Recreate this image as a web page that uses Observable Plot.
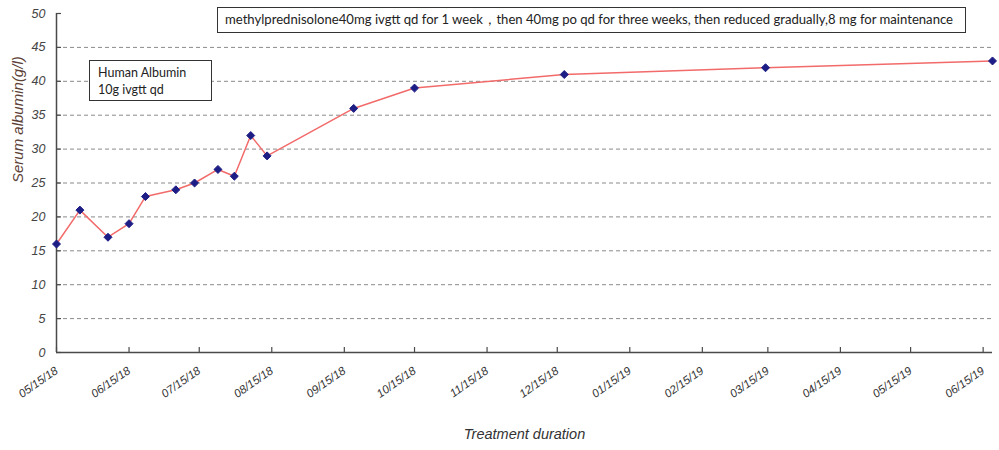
<!DOCTYPE html>
<html>
<head>
<meta charset="utf-8">
<script src="https://cdn.jsdelivr.net/npm/d3@7"></script>
<script src="https://cdn.jsdelivr.net/npm/@observablehq/plot@0.6"></script>
<style>
  html, body { margin: 0; padding: 0; background: #fff; }
  #wrap { position: relative; width: 999px; height: 450px; overflow: hidden; }
  .note { position: absolute; box-sizing: border-box; border: 1.5px solid #333; background: #fff;
          font-family: Lato, "Open Sans", sans-serif; color: #222; font-size: 12px; white-space: nowrap; }
  #note1 { left: 217px; top: 7px; width: 749px; height: 26px; line-height: 24px; padding-left: 7px; font-size: 12.5px; }
  #note2 { left: 89px; top: 60px; width: 123px; height: 41px; padding: 3px 0 0 8px; line-height: 17px; font-size: 12.5px; }
  #note1 span { display: inline-block; transform-origin: 0 50%; }
</style>
</head>
<body>
<div id="wrap"></div>
<script>
// ---- data ----
const sampleDates = ["05/15/18","05/25/18","06/06/18","06/15/18","06/22/18","07/05/18","07/13/18","07/23/18","07/30/18","08/06/18","08/13/18","09/19/18","10/15/18","12/18/18","03/14/19","06/19/19"];
const albumin = [16, 21, 17, 19, 23, 24, 25, 27, 26, 32, 29, 36, 39, 41, 42, 43];
const xTickLabels = ["05/15/18","06/15/18","07/15/18","08/15/18","09/15/18","10/15/18","11/15/18","12/15/18","01/15/19","02/15/19","03/15/19","04/15/19","05/15/19","06/15/19"];
const yTicks = [0, 5, 10, 15, 20, 25, 30, 35, 40, 45, 50];
const gridValues = [5, 10, 15, 20, 25, 30, 35, 40, 45];
const xDomainLabels = ["05/15/18", "06/19/19"];
const yTitle = "Serum albumin(g/l)";
const xTitle = "Treatment duration";
const note1Text = "methylprednisolone40mg ivgtt qd for 1 week，then 40mg  po qd for three weeks, then reduced gradually,8 mg for maintenance";
const note2Lines = ["Human Albumin", "10g ivgtt qd"];

// ---- build ----
const parse = d3.utcParse("%m/%d/%y");
const fmt = d3.utcFormat("%m/%d/%y");
const data = sampleDates.map((d, i) => ({date: parse(d), value: albumin[i]}));
const xTicks = xTickLabels.map(parse);
const xDomain = xDomainLabels.map(parse);

const W = 999, H = 450, mL = 56, mR = 7, mT = 13, mB = 98;
const plotW = W - mL - mR, plotH = H - mT - mB;
const axisColor = "#4a4a4a";

const chart = Plot.plot({
  width: W, height: H,
  marginLeft: mL, marginRight: mR, marginTop: mT, marginBottom: mB,
  style: {fontFamily: "'Liberation Sans', Arial, sans-serif", background: "#fff", overflow: "visible"},
  x: {type: "utc", domain: xDomain},
  y: {domain: [0, 50]},
  marks: [
    Plot.gridY(gridValues, {stroke: "#8a8a8a", strokeOpacity: 1, strokeWidth: 1, strokeDasharray: "4,3"}),
    Plot.ruleX([xDomain[0]], {stroke: axisColor, strokeWidth: 1.5}),
    Plot.ruleY([0], {stroke: axisColor, strokeWidth: 1.5}),
    Plot.tickX(xTicks, {x: d => d, insetTop: plotH - 5, stroke: axisColor, strokeWidth: 1.2}),
    Plot.tickY(yTicks, {y: d => d, insetRight: plotW - 5, stroke: axisColor, strokeWidth: 1.2}),
    Plot.axisY({ticks: yTicks, tickSize: 0, tickPadding: 11, fontSize: 12.5, fontStyle: "italic", fill: "#444", label: null}),
    Plot.axisX({ticks: xTicks, tickFormat: fmt, tickRotate: -35, tickSize: 0, tickPadding: 17, fontSize: 11.5, fontStyle: "italic", fill: "#333", label: null}),
    Plot.text([yTitle], {text: d => d, frameAnchor: "left", rotate: -90, dx: -38, fontSize: 15, fontStyle: "italic", fill: "#5b4036"}),
    Plot.text([xTitle], {text: d => d, frameAnchor: "bottom", dy: 86, fontSize: 14.5, fontStyle: "italic", fill: "#333"}),
    Plot.line(data, {x: "date", y: "value", stroke: "#f26a6a", strokeWidth: 1.5}),
    Plot.dot(data, {x: "date", y: "value", symbol: "diamond2", r: 3.6, fill: "#1d1d86", stroke: "#1d1d86", strokeWidth: 1})
  ]
});

const wrap = document.getElementById("wrap");
wrap.appendChild(chart);

const n1 = document.createElement("div");
n1.className = "note"; n1.id = "note1";
const sp = document.createElement("span");
sp.textContent = note1Text;
n1.appendChild(sp);
wrap.appendChild(n1);

const n2 = document.createElement("div");
n2.className = "note"; n2.id = "note2";
n2.innerHTML = note2Lines.map(t => `<div>${t}</div>`).join("");
wrap.appendChild(n2);

// fit note text to the box width as in the reference
const target = 728;
const w = sp.getBoundingClientRect().width;
if (w > 0) sp.style.transform = `scaleX(${target / w})`;
</script>
</body>
</html>
